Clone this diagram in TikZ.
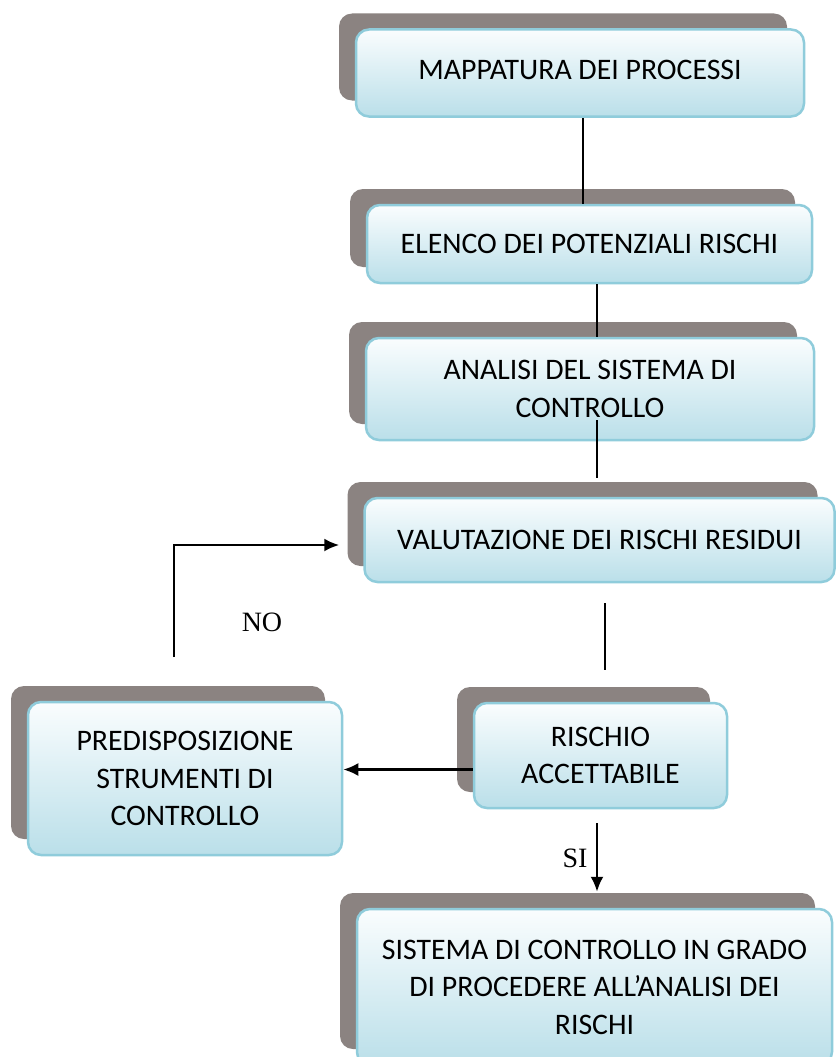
\documentclass[tikz,border=0pt]{standalone}
\usepackage{fontspec}
\setmainfont{Carlito}
\newfontfamily\lblfont{Liberation Serif}
\usetikzlibrary{shadows,arrows.meta}

\definecolor{boxedge}{RGB}{143,204,219}
\definecolor{boxlow}{RGB}{186,223,233}
\definecolor{boxtop}{RGB}{250,253,254}
\definecolor{shadowgray}{RGB}{139,131,129}

\tikzset{
  procbox/.style={draw=boxedge, line width=2.5pt, rounded corners=13pt,
    top color=boxtop, bottom color=boxlow, align=center,
    font=\fontsize{29.8}{37.5}\selectfont, inner sep=0pt,
    general shadow={fill=shadowgray, shadow xshift=-17pt, shadow yshift=16pt}},
  lbl/.style={font=\lblfont\fontsize{28}{32}\selectfont},
  link/.style={line width=2.4pt},
  arr/.style={link, -{Latex[length=15pt,width=13pt]}}
}

\begin{document}
\begin{tikzpicture}[x=1pt,y=-1pt]
  \useasboundingbox[fill=white] (0,0) rectangle (835,1057);

  \node[procbox, minimum width=448pt, minimum height=87pt] (b1) at (580,73)
    {\raisebox{6pt}{MAPPATURA DEI PROCESSI}};
  \node[procbox, minimum width=445pt, minimum height=78pt] (b2) at (589.5,244)
    {ELENCO DEI POTENZIALI RISCHI};
  \node[procbox, minimum width=448pt, minimum height=102pt] (b3) at (590,389)
    {ANALISI DEL SISTEMA DI\\CONTROLLO};
  \node[procbox, minimum width=470pt, minimum height=84pt] (b4) at (599.5,540)
    {VALUTAZIONE DEI RISCHI RESIDUI};
  \node[procbox, minimum width=253pt, minimum height=105pt] (b5) at (600.5,755.5)
    {RISCHIO\\ACCETTABILE};
  \node[procbox, minimum width=314pt, minimum height=153pt] (b6) at (185,778.5)
    {PREDISPOSIZIONE\\STRUMENTI DI\\CONTROLLO};
  \node[procbox, minimum width=475pt, minimum height=156pt] (b7) at (594.5,987)
    {SISTEMA DI CONTROLLO IN GRADO\\DI PROCEDERE ALL'ANALISI DEI\\RISCHI};

  % connectors
  \draw[link] ([xshift=3pt]b1.south) -- ([xshift=3pt]b1.south |- b2.north);
  \draw[link] ([xshift=7.5pt]b2.south) -- ([xshift=7.5pt]b2.south |- b3.north);
  \coordinate (c1) at (597,420);
  \coordinate (c2) at (597,478);
  \draw[link] (c1) -- (c2);
  \coordinate (g1) at (605,603);
  \coordinate (g2) at (605,670);
  \draw[link] (g1) -- (g2);

  \draw[arr] ([yshift=-14pt]b5.west) -- ([yshift=-14pt]b5.west -| b6.east);
  \coordinate (s1) at (597,823);
  \draw[arr] (s1) -- ([yshift=16pt]s1 |- b7.north);
  \coordinate (n1) at (174,657);
  \draw[arr] (n1) |- ([xshift=-24pt,yshift=-5pt]b4.west);

  \node[lbl] (no) at (262,622) {NO};
  \node[lbl] (si) at (575,858) {SI};
\end{tikzpicture}
\end{document}
